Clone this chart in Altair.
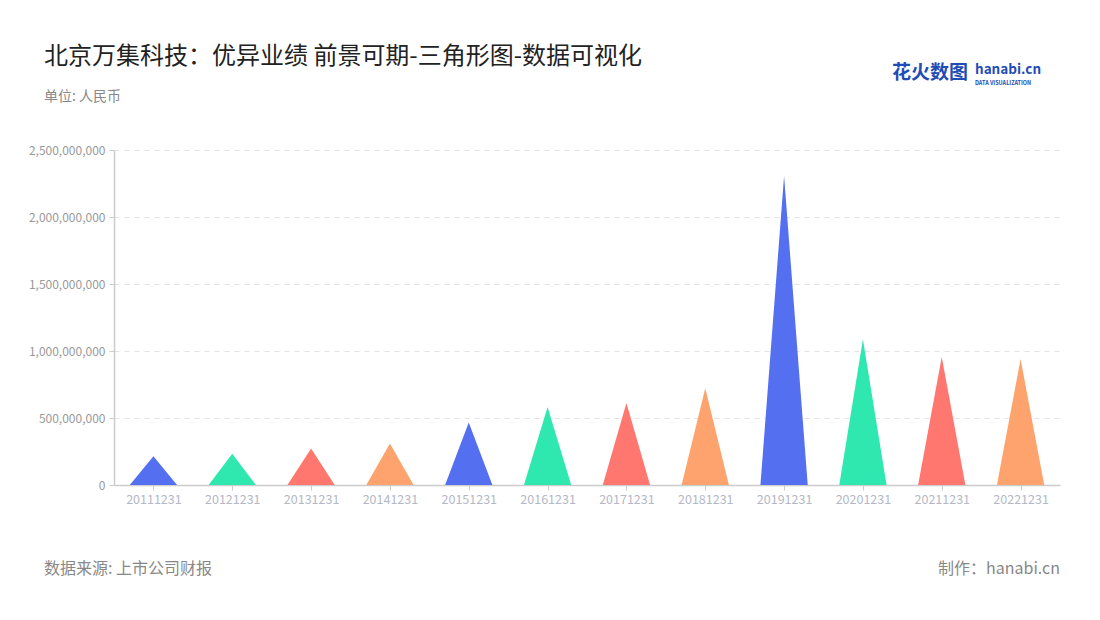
import altair as alt
import pandas as pd

categories = ["20111231", "20121231", "20131231", "20141231", "20151231", "20161231",
              "20171231", "20181231", "20191231", "20201231", "20211231", "20221231"]
values = [214e6, 234e6, 272e6, 309e6, 466e6, 582e6,
          612e6, 722e6, 2306e6, 1087e6, 955e6, 940e6]
palette = ["#5470F0", "#2EE8B0", "#FF776F", "#FFA36E"]
y_ticks = [0, 500000000, 1000000000, 1500000000, 2000000000, 2500000000]

half = 0.3
rows = []
for i, (c, v) in enumerate(zip(categories, values)):
    rows.append({"cat": c, "x": i - half, "y": 0.0})
    rows.append({"cat": c, "x": i, "y": v})
    rows.append({"cat": c, "x": i + half, "y": 0.0})
df = pd.DataFrame(rows)

colors = [palette[i % len(palette)] for i in range(len(categories))]
label_array = "[" + ",".join("'%s'" % c for c in categories) + "]"

FONT = "Noto Sans CJK SC"
W, H = 946, 335

tri = alt.Chart(df).mark_area(opacity=1).encode(
    x=alt.X("x:Q",
            scale=alt.Scale(domain=[-0.5, len(categories) - 0.5], nice=False, zero=False),
            axis=alt.Axis(values=list(range(len(categories))),
                          labelExpr=label_array + "[datum.value]",
                          title=None, grid=False, domainColor="#cccccc", domainWidth=1.5,
                          tickColor="#cccccc", tickSize=5, labelColor="#b4b8c6",
                          labelFontSize=12.5, labelFont=FONT, labelPadding=3)),
    y=alt.Y("y:Q",
            scale=alt.Scale(domain=[0, 2500000000], nice=False),
            axis=alt.Axis(values=y_ticks, labelExpr="format(datum.value, ',.0f')", title=None,
                          grid=True, gridColor="#e3e3e3", gridDash=[5, 5], gridWidth=1,
                          domainColor="#cccccc", domainWidth=1.5,
                          tickColor="#cccccc", tickSize=5, labelColor="#999999",
                          labelFontSize=12, labelFont=FONT, labelPadding=4)),
    color=alt.Color("cat:N", scale=alt.Scale(domain=categories, range=colors), legend=None),
    detail="cat:N",
)

def txt(text, x, y, size, color, align="left", weight="normal"):
    return alt.Chart(pd.DataFrame({"t": [text]})).mark_text(
        align=align, baseline="alphabetic", fontSize=size, color=color,
        font=FONT, fontWeight=weight
    ).encode(x=alt.value(x), y=alt.value(y), text="t:N")

title = txt("北京万集科技：优异业绩 前景可期-三角形图-数据可视化", -70, -86, 24, "#222222")
subtitle = txt("单位: 人民币", -70, -49, 14, "#888888")
source = txt("数据来源: 上市公司财报", -70, 424, 16, "#888888")
maker = txt("制作：hanabi.cn", W, 424, 16, "#888888", align="right")
logo1 = txt("花火数图", 778, -71, 19, "#1f4db5", weight="bold")
logo2 = txt("hanabi.cn", 861, -76, 13.5, "#1f4db5", weight="bold")
logo3 = txt("DATA VISUALIZATION", 861, -65, 5.5, "#1f4db5", weight="bold")

chart = alt.layer(tri, title, subtitle, source, maker, logo1, logo2, logo3).properties(
    width=W, height=H,
    background="white",
    autosize=alt.AutoSizeParams(type="none"),
    padding={"left": 106, "top": 142, "right": 32, "bottom": 120},
).configure_view(strokeWidth=0)

chart.save("out.html", embed_options={"renderer": "svg", "actions": False})
